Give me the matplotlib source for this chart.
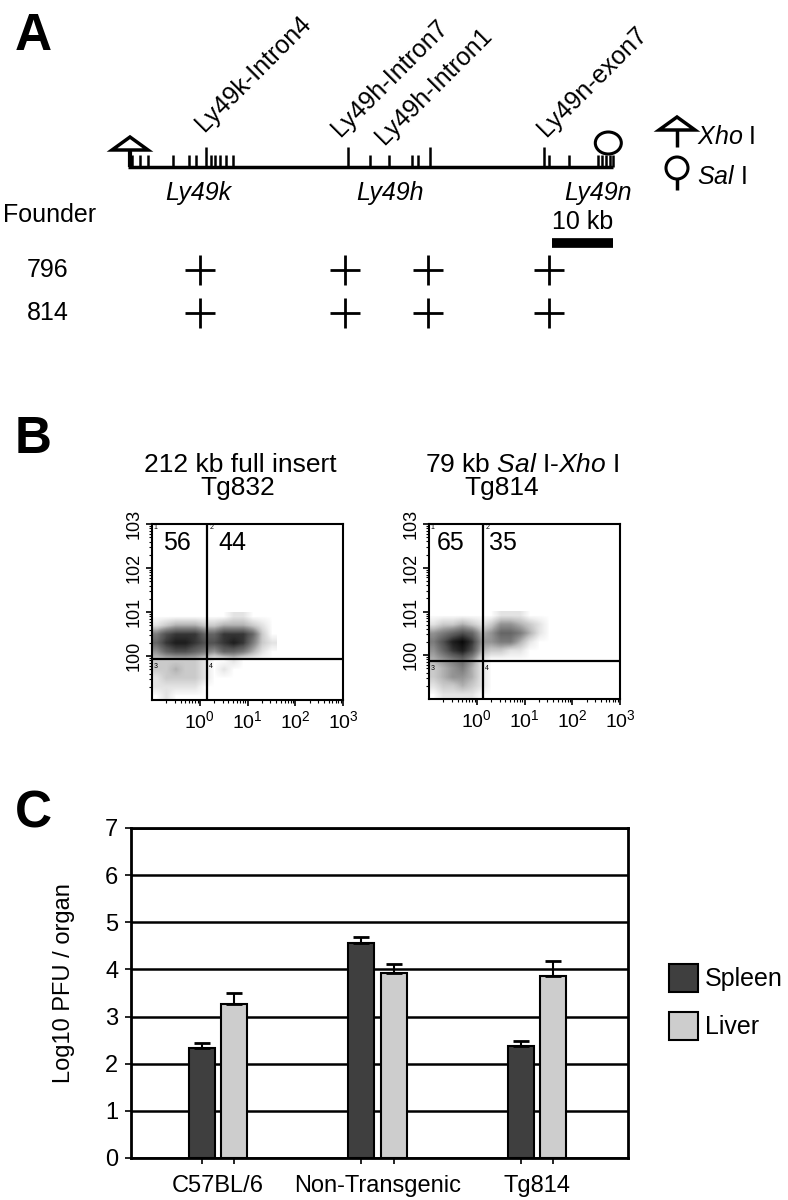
import matplotlib
matplotlib.use('Agg')
import matplotlib.pyplot as plt
import numpy as np
from matplotlib.patches import Polygon, Ellipse
from matplotlib.colors import PowerNorm

plt.rcParams['font.family'] = ['Liberation Sans', 'DejaVu Sans']
plt.rcParams['mathtext.fontset'] = 'custom'
plt.rcParams['mathtext.rm'] = 'Liberation Sans'
plt.rcParams['mathtext.it'] = 'Liberation Sans:italic'

W, H = 788, 1200

# ---------------- panel A : BAC map (positions in kb from the Xho I site)
insert_start_kb = -0.3
insert_end_kb = 78.7
xho_kb = 0.0
sal_kb = 77.9
exon_ticks_kb = [0.3, 1.6, 2.9, 7.0, 9.6, 10.7, 13.2, 13.8, 14.7, 15.6, 16.8,
                 39.1, 42.2, 45.9, 46.9,
                 68.2, 71.5, 76.2, 76.9, 77.5, 78.2, 78.6]
probe_ticks_kb = [12.4, 35.5, 48.9, 67.4]
gene_names = ['Ly49k', 'Ly49h', 'Ly49n']
gene_kb = [11.2, 42.3, 76.2]
probe_names = ['Ly49k-Intron4', 'Ly49h-Intron7', 'Ly49h-Intron1', 'Ly49n-exon7']
probe_label_kb = [12.2, 34.2, 41.5, 67.9]
probe_kb = [11.4, 35.0, 48.5, 68.2]
founders = ['796', '814']
founder_hits = [[1, 1, 1, 1], [1, 1, 1, 1]]
scale_bar_kb = 10

# ---------------- panel B : flow cytometry, cell density per 0.2-decade bin
dens_x_edges = [-1.0, 1.6]
dens_y_edges = [-1.0, 1.0]
# rows from log y = -1.0 (bottom) up to 1.0, columns from log x = -1.0 to 1.6
tg832_density = [
    [0, 1, 0, 0, 0, 0, 0, 0, 0, 0, 0, 0, 0],
    [1, 1, 1, 1, 1, 0, 0, 0, 0, 0, 0, 0, 0],
    [1, 2, 2, 2, 2, 1, 0, 0, 0, 0, 0, 0, 0],
    [2, 2, 3, 2, 2, 1, 0, 1, 0, 0, 0, 0, 0],
    [2, 2, 2, 2, 2, 1, 0, 0, 1, 0, 0, 0, 0],
    [4, 6, 7, 7, 6, 5, 4, 6, 6, 5, 3, 1, 0],
    [6, 8, 9, 9, 8, 7, 7, 8, 9, 8, 5, 2, 1],
    [5, 7, 8, 8, 8, 6, 6, 8, 8, 8, 6, 2, 0],
    [1, 2, 3, 3, 3, 2, 2, 3, 3, 3, 2, 1, 0],
    [0, 0, 0, 0, 0, 0, 0, 0, 1, 1, 0, 0, 0],
]
tg814_density = [
    [0, 1, 1, 1, 1, 0, 0, 0, 0, 0, 0, 0, 0],
    [1, 2, 2, 3, 2, 1, 0, 0, 0, 0, 0, 0, 0],
    [2, 3, 4, 4, 3, 1, 0, 0, 0, 0, 0, 0, 0],
    [2, 3, 4, 5, 3, 1, 0, 0, 0, 0, 0, 0, 0],
    [3, 4, 5, 6, 4, 1, 0, 0, 0, 0, 0, 0, 0],
    [4, 6, 8, 9, 7, 3, 2, 2, 1, 1, 0, 0, 0],
    [5, 7, 9, 10, 8, 4, 4, 5, 5, 3, 1, 0, 0],
    [4, 5, 6, 7, 6, 3, 4, 6, 6, 5, 3, 1, 0],
    [1, 2, 2, 3, 2, 1, 2, 4, 4, 3, 2, 1, 0],
    [0, 0, 0, 0, 0, 0, 0, 1, 1, 1, 0, 0, 0],
]
facs_titles = ['212 kb full insert', r'79 kb $\mathit{Sal}$ I-$\mathit{Xho}$ I']
facs_lines = ['Tg832', 'Tg814']
facs_gates = [(0.15, -0.07), (0.13, -0.13)]      # (log x, log y)
facs_pct = [('56', '44'), ('65', '35')]
facs_pct_x = [(-0.77, 0.38), (-0.83, 0.26)]

# ---------------- panel C : MCMV titres
strains = ['C57BL/6', 'Non-Transgenic', 'Tg814']
spleen = [2.33, 4.56, 2.38]
spleen_err = [0.11, 0.13, 0.10]
liver = [3.27, 3.93, 3.86]
liver_err = [0.23, 0.19, 0.32]


def fx(px):
    return px / W


def fy(py):
    return 1 - py / H


fig = plt.figure(figsize=(W / 100, H / 100), dpi=100)

for letter, py in [('A', 50), ('B', 453), ('C', 827)]:
    fig.text(fx(15), fy(py), letter, fontsize=37, fontweight='bold', va='baseline')

# ---------------- panel A
PX_PER_KB = 6.14
X0 = 130
axA = fig.add_axes([0, fy(340), 1, 340 / H])
axA.set_xlim((0 - X0) / PX_PER_KB, (W - X0) / PX_PER_KB)
axA.set_ylim(340, 0)
axA.axis('off')

line_y = 167
axA.plot([insert_start_kb, insert_end_kb], [line_y, line_y], color='k', lw=2.5,
         solid_capstyle='butt')
axA.vlines(exon_ticks_kb, 155, line_y, color='k', lw=1.8)
axA.vlines(probe_ticks_kb, 147, line_y, color='k', lw=1.8)

# Xho I site
tri_w = 18 / PX_PER_KB
axA.add_patch(Polygon([(xho_kb - tri_w, 150), (xho_kb, 137), (xho_kb + tri_w, 150)],
                      closed=True, fc='white', ec='k', lw=2.5))
axA.vlines(xho_kb, 150, line_y, color='k', lw=3)
# Sal I site
axA.add_patch(Ellipse((sal_kb, 143), 26 / PX_PER_KB, 22, fc='white', ec='k', lw=2.2))

for name, kb in zip(gene_names, gene_kb):
    axA.text(kb, 193, name, fontsize=18, style='italic', ha='center', va='center')

for name, kb, py in zip(probe_names, probe_label_kb, [132, 137, 145, 137]):
    axA.text(kb, py, name, fontsize=18, rotation=45, rotation_mode='anchor',
             ha='left', va='baseline')

# legend of restriction sites
leg_kb = (677 - X0) / PX_PER_KB
axA.add_patch(Polygon([(leg_kb - tri_w, 130), (leg_kb, 117), (leg_kb + tri_w, 130)],
                      closed=True, fc='white', ec='k', lw=2.5))
axA.vlines(leg_kb, 130, 147, color='k', lw=2.5)
axA.add_patch(Ellipse((leg_kb, 168), 22 / PX_PER_KB, 22, fc='white', ec='k', lw=2.2))
axA.vlines(leg_kb, 179, 190, color='k', lw=2.5)
fig.text(fx(697), fy(137), r'$\mathit{Xho}$ I', fontsize=18, va='center')
fig.text(fx(697), fy(177), r'$\mathit{Sal}$ I', fontsize=18, va='center')

# scale bar
axA.plot([sal_kb + 0.8 - scale_bar_kb, sal_kb + 0.8], [243, 243], color='k', lw=7,
         solid_capstyle='butt')
axA.text(sal_kb + 0.8 - scale_bar_kb / 2, 222, '10 kb', fontsize=18, ha='center',
         va='center')

fig.text(fx(3), fy(215), 'Founder', fontsize=18, va='center')
for i, (fname, hits) in enumerate(zip(founders, founder_hits)):
    row_y = [270, 313][i]
    fig.text(fx(27), fy(row_y), fname, fontsize=18, va='center')
    xs = [kb for kb, h in zip(probe_kb, hits) if h]
    axA.plot(xs, [row_y] * len(xs), ls='none', marker='+', ms=22, mew=2, color='k')

# ---------------- panel B
boxes = [(152, 524, 191, 176), (429, 524, 191, 175)]
title_x = [(240, 238), (522, 502)]
for i, dens in enumerate([tg832_density, tg814_density]):
    bx, by, bw, bh = boxes[i]
    ax = fig.add_axes([fx(bx), fy(by + bh), bw / W, bh / H])
    ax.imshow(np.array(dens), origin='lower', cmap='Greys',
              norm=PowerNorm(gamma=0.7, vmin=0, vmax=10.5),
              interpolation='bilinear', aspect='auto',
              extent=[dens_x_edges[0], dens_x_edges[1], dens_y_edges[0], dens_y_edges[1]])
    ax.set_xlim(-1, 3)
    ax.set_ylim(-1, 3)
    gx, gy = facs_gates[i]
    ax.axvline(gx, color='k', lw=1.6)
    ax.axhline(gy, color='k', lw=1.6)
    for sp in ax.spines.values():
        sp.set_linewidth(1.5)
    ax.set_xticks([0, 1, 2, 3])
    ax.set_xticklabels([r'$10^{%d}$' % d for d in range(4)], fontsize=14)
    ax.set_yticks([0, 1, 2, 3])
    ax.set_yticklabels(['10%d' % d for d in range(4)], fontsize=13, rotation=90,
                       va='center')
    minors = [n + np.log10(k) for n in range(-1, 3) for k in range(2, 10)]
    ax.set_xticks(minors, minor=True)
    ax.set_yticks(minors, minor=True)
    ax.tick_params(which='major', length=4, width=1.2, pad=3)
    ax.tick_params(which='minor', length=2, width=0.8)
    for (t, qx, qy) in [('1', -0.97, 2.88), ('2', gx + 0.05, 2.88),
                        ('3', -0.97, gy - 0.2), ('4', gx + 0.05, gy - 0.2)]:
        ax.text(qx, qy, t, fontsize=5)
    for t, tx in zip(facs_pct[i], facs_pct_x[i]):
        ax.text(tx, 2.57, t, fontsize=18, va='center')
    fig.text(fx(title_x[i][0]), fy(465), facs_titles[i], fontsize=19, ha='center',
             va='center')
    fig.text(fx(title_x[i][1]), fy(488), facs_lines[i], fontsize=19, ha='center',
             va='center')

# ---------------- panel C
axC = fig.add_axes([fx(131), fy(1158), 497 / W, 330 / H])
x = np.arange(len(strains))
off = 0.103
bw = 0.163
axC.set_axisbelow(True)
axC.yaxis.grid(True, color='k', lw=1.8)
axC.bar(x - off, spleen, bw, color='#3f3f3f', edgecolor='k', lw=1.5, label='Spleen',
        zorder=2)
axC.bar(x + off, liver, bw, color='#cdcdcd', edgecolor='k', lw=1.5, label='Liver',
        zorder=2)
axC.errorbar(x - off, spleen, yerr=[np.zeros(3), spleen_err], fmt='none', ecolor='k',
             elinewidth=1.5, capsize=6, capthick=2, zorder=3)
axC.errorbar(x + off, liver, yerr=[np.zeros(3), liver_err], fmt='none', ecolor='k',
             elinewidth=1.5, capsize=6, capthick=2, zorder=3)
axC.set_xlim(-0.545, 2.57)
axC.set_ylim(0, 7)
axC.set_yticks(range(8))
axC.tick_params(axis='y', labelsize=17, length=4, width=1.2, pad=5)
axC.set_xticks(np.concatenate([x - off, x + off]))
axC.set_xticklabels([])
axC.tick_params(axis='x', which='major', length=4, width=1.2)
axC.set_xticks(x, strains, minor=True)
axC.tick_params(axis='x', which='minor', length=0, labelsize=17, pad=12)
for sp in axC.spines.values():
    sp.set_linewidth(2)
axC.set_ylabel('Log10 PFU / organ', fontsize=17)
axC.yaxis.set_label_coords(-0.113, 0.53)
axC.legend(loc='upper left', bbox_to_anchor=(fx(669), fy(964)),
           bbox_transform=fig.transFigure, frameon=False, fontsize=18,
           borderpad=0, borderaxespad=0, handlelength=1.15, handleheight=1.35,
           labelspacing=0.8, handletextpad=0.3)

fig.savefig('out.png', dpi=100)
